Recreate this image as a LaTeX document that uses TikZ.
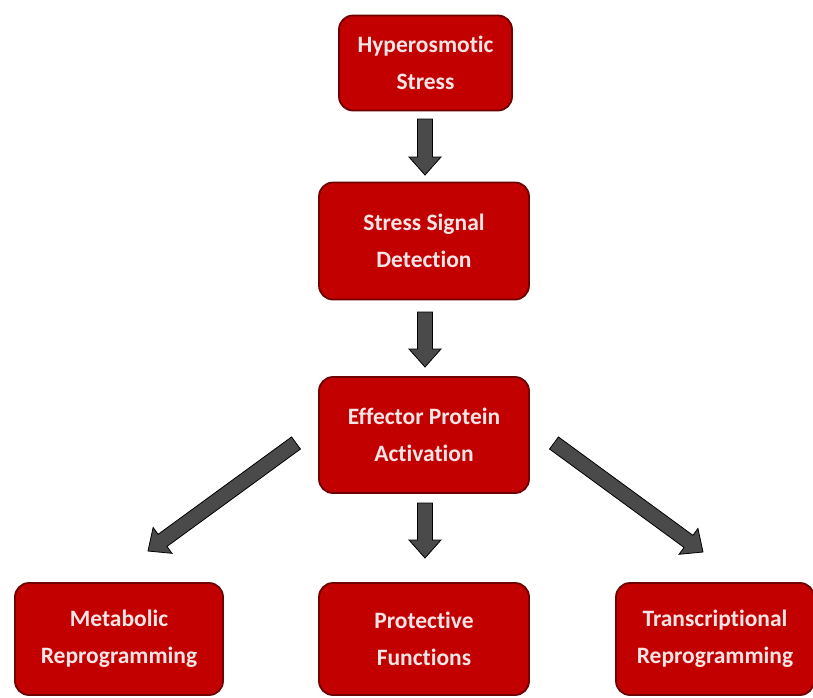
\documentclass[tikz,border=0pt]{standalone}
\usepackage{fontspec}
\setmainfont[Ligatures=NoCommon]{Carlito}
\usetikzlibrary{calc}
\definecolor{boxred}{HTML}{C20000}
\definecolor{boxedge}{HTML}{6E0000}
\definecolor{txt}{HTML}{F7E4E4}
\definecolor{arrgray}{HTML}{4A4A4A}
\tikzset{
  box/.style={draw=boxedge, line width=1.8pt, fill=boxred, rounded corners=14pt,
    text=txt, align=center, font=\fontsize{23.5}{37}\selectfont\bfseries, inner sep=0pt},
  blockarr/.style={draw=black, line width=0.8pt, fill=arrgray, line join=miter},
}
\newcommand{\blockarrow}[2]{%
  \coordinate (ba-n) at ($(#2)!18pt!(#1)$);
  \draw[blockarr] ($(#1)!7.5pt!90:(#2)$) -- ($(ba-n)!7.5pt!90:(#2)$) -- ($(ba-n)!16pt!90:(#2)$) -- (#2)
    -- ($(ba-n)!16pt!-90:(#2)$) -- ($(ba-n)!7.5pt!-90:(#2)$) -- ($(#1)!7.5pt!-90:(#2)$) -- cycle;
}
\begin{document}
\begin{tikzpicture}[x=1pt,y=-1pt]
\useasboundingbox (0,0) rectangle (813,697);
\clip (0,0) rectangle (813,697);
\fill[white] (0,0) rectangle (813,697);

\node[box, minimum width=173pt, minimum height=95pt] (hyp) at (425.5,63) {Hyperosmotic\\Stress};
\node[box, minimum width=210pt, minimum height=117pt] (ssd) at (424,241) {Stress Signal\\Detection};
\node[box, minimum width=210pt, minimum height=116pt] (epa) at (424,435) {Effector Protein\\Activation};
\node[box, minimum width=208pt, minimum height=112pt] (met) at (119,639) {Metabolic\\Reprogramming};
\node[box, minimum width=210pt, minimum height=112pt] (pro) at (424,639) {Protective\\Functions};
\node[box, minimum width=198pt, minimum height=112pt] (tra) at (715,639) {Transcriptional\\Reprogramming};

\coordinate (a1s) at (425,119);
\coordinate (a1e) at (425,175);
\coordinate (a2s) at (425,312);
\coordinate (a2e) at (425,367);
\coordinate (a3s) at (425,503);
\coordinate (a3e) at (425,558);
\coordinate (a4s) at (296,443);
\coordinate (a4e) at (148,551);
\coordinate (a5s) at (554,443);
\coordinate (a5e) at (703,552);

\blockarrow{a1s}{a1e}
\blockarrow{a2s}{a2e}
\blockarrow{a3s}{a3e}
\blockarrow{a4s}{a4e}
\blockarrow{a5s}{a5e}
\end{tikzpicture}
\end{document}
